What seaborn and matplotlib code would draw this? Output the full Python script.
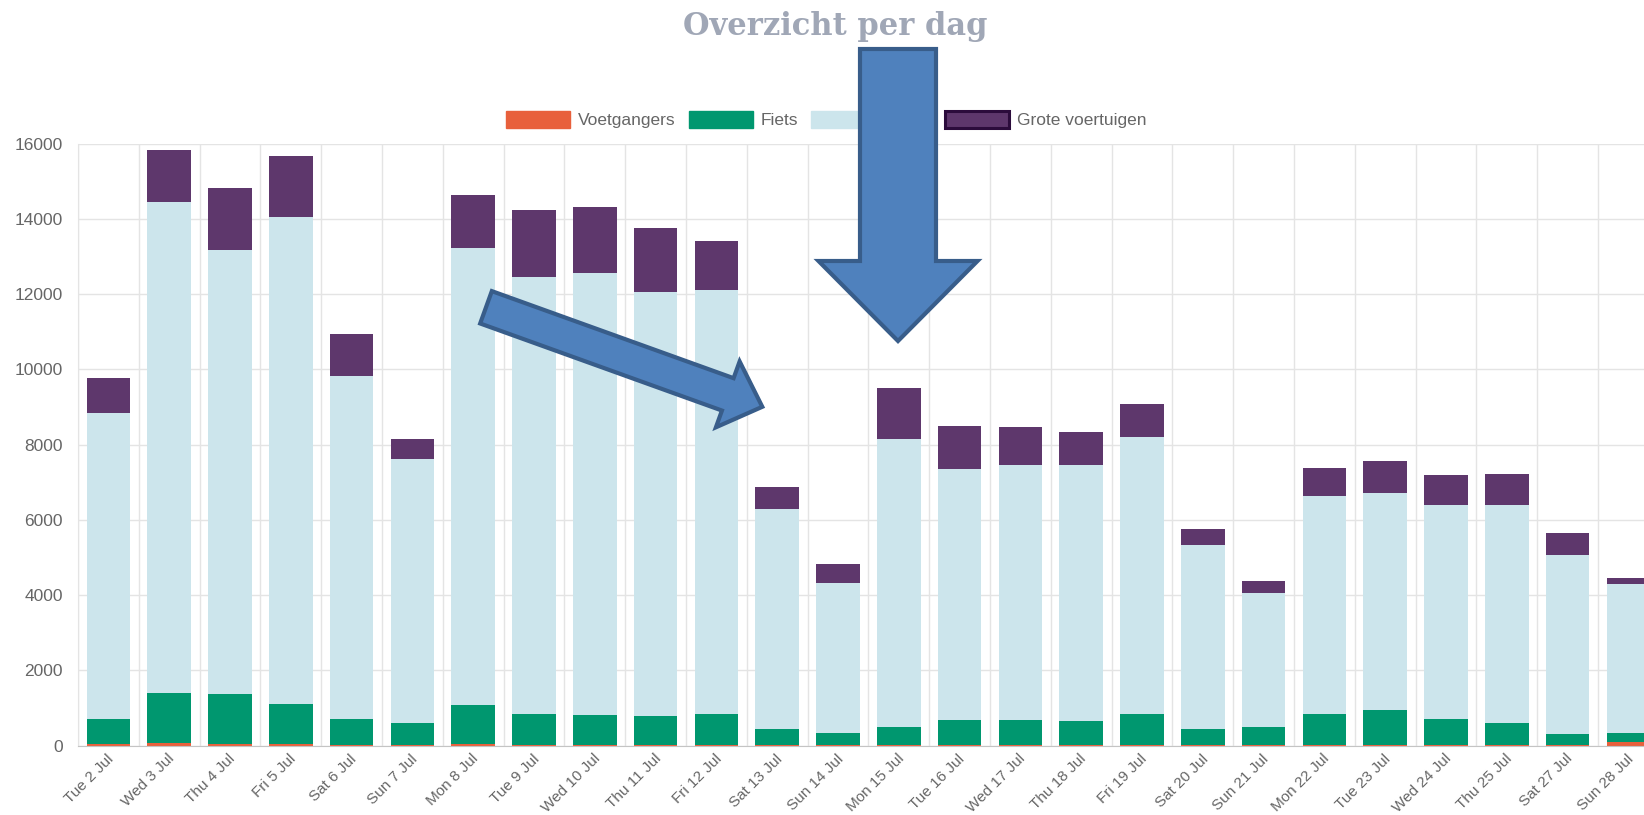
import seaborn as sns
import pandas as pd
import numpy as np
import matplotlib.pyplot as plt
from matplotlib.patches import Patch, Polygon
import matplotlib.transforms as mtransforms

# Data per dag
dagen = ['Tue 2 Jul', 'Wed 3 Jul', 'Thu 4 Jul', 'Fri 5 Jul', 'Sat 6 Jul', 'Sun 7 Jul',
         'Mon 8 Jul', 'Tue 9 Jul', 'Wed 10 Jul', 'Thu 11 Jul', 'Fri 12 Jul', 'Sat 13 Jul',
         'Sun 14 Jul', 'Mon 15 Jul', 'Tue 16 Jul', 'Wed 17 Jul', 'Thu 18 Jul', 'Fri 19 Jul',
         'Sat 20 Jul', 'Sun 21 Jul', 'Mon 22 Jul', 'Tue 23 Jul', 'Wed 24 Jul', 'Thu 25 Jul',
         'Sat 27 Jul', 'Sun 28 Jul']
voetgangers = [30, 70, 50, 40, 20, 20, 50, 25, 25, 25, 25, 15, 15, 15, 15, 15, 15, 15,
               15, 15, 15, 15, 15, 15, 15, 80]
fiets = [670, 1320, 1310, 1070, 680, 565, 1035, 810, 780, 755, 810, 430, 320, 485, 655,
         655, 625, 820, 430, 485, 820, 930, 680, 595, 290, 255]
autos = [8150, 13050, 11800, 12940, 9120, 7035, 12130, 11630, 11745, 11270, 11265, 5845,
         3975, 7650, 6675, 6790, 6820, 7375, 4895, 3560, 5785, 5760, 5705, 5790, 4760, 3950]
grote_voertuigen = [920, 1390, 1670, 1610, 1115, 530, 1420, 1780, 1750, 1695, 1310, 580,
                    505, 1340, 1140, 1000, 860, 860, 420, 310, 755, 865, 780, 805, 585, 170]

reeksen = ['Voetgangers', 'Fiets', "Auto's", 'Grote voertuigen']
kleuren = ['#e8603c', '#00976f', '#cce5ec', '#5e376c']

df = pd.DataFrame({'dag': dagen, 'Voetgangers': voetgangers, 'Fiets': fiets,
                   "Auto's": autos, 'Grote voertuigen': grote_voertuigen})
cum = df[reeksen].cumsum(axis=1)

W, H = 1644, 815
sns.set_style("white")
plt.rcParams['font.family'] = ['Liberation Sans', 'DejaVu Sans']

fig = plt.figure(figsize=(W / 100, H / 100), dpi=100)
# plotgebied loopt rechts iets buiten de afbeelding
ax = fig.add_axes([78 / W, (H - 745.5) / H, 26 * 60.8 / W, 602 / H])

# gestapelde balken: hoogste cumulatieve waarde eerst tekenen
for naam, kleur in reversed(list(zip(reeksen, kleuren))):
    sns.barplot(x=df['dag'], y=cum[naam], color=kleur, saturation=1, width=0.72,
                linewidth=0, edgecolor='none', ax=ax, zorder=2)

ax.set_xlim(-0.5, len(dagen) - 0.5)
ax.set_ylim(0, 16000)
ax.set_yticks(np.arange(0, 16001, 2000))
ax.set_xlabel('')
ax.set_ylabel('')

grid_kleur = '#e4e4e4'
ax.set_xticks(np.arange(len(dagen)) - 0.5, minor=True)
ax.grid(True, which='minor', axis='x', color=grid_kleur, linewidth=1, zorder=0)
ax.grid(True, which='major', axis='y', color=grid_kleur, linewidth=1, zorder=0)
ax.grid(False, which='major', axis='x')
ax.set_axisbelow(True)

ax.tick_params(axis='x', which='major', length=0, pad=8, labelsize=11, labelcolor='#666666')
ax.tick_params(axis='x', which='minor', length=7, color=grid_kleur, width=1)
ax.tick_params(axis='y', length=7, color=grid_kleur, width=1, pad=4, labelsize=12.5,
               labelcolor='#666666')
ax.set_xticks(np.arange(len(dagen)))
ax.set_xticklabels(dagen, rotation=45, ha='right', va='center', rotation_mode='anchor')
offset = mtransforms.ScaledTranslation(3 / 100, 0, fig.dpi_scale_trans)
for lbl in ax.get_xticklabels():
    lbl.set_transform(lbl.get_transform() + offset)

for side in ['top', 'right']:
    ax.spines[side].set_visible(False)
ax.spines['left'].set_color(grid_kleur)
ax.spines['bottom'].set_color('#c4c4c4')

# titel
fig.text(835 / W, 1 - 35 / H, 'Overzicht per dag', ha='center', va='baseline',
         family=['DejaVu Serif'], fontweight='bold', fontsize=22, color='#a0a7b6')

# legenda
handles = [Patch(facecolor=k, edgecolor=k, label=r) for r, k in zip(reeksen, kleuren)]
handles[3] = Patch(facecolor=kleuren[3], edgecolor='#2c0c3c', linewidth=2.2,
                   label=reeksen[3])
fig.legend(handles=handles, loc='center', bbox_to_anchor=(826 / W, 1 - 119.5 / H),
           ncol=4, frameon=False, fontsize=12.5, handlelength=3.7, handleheight=1.15,
           handletextpad=0.46, columnspacing=0.75, labelcolor='#666666')


# blauwe blokpijlen (in pixels van de afbeelding)
def blokpijl(staart, punt, schacht, kop_breed, kop_lang):
    s = np.array(staart, float)
    p = np.array(punt, float)
    d = (p - s) / np.linalg.norm(p - s)
    n = np.array([-d[1], d[0]])
    b = p - d * kop_lang
    pts = [s + n * schacht, b + n * schacht, b + n * kop_breed, p,
           b - n * kop_breed, b - n * schacht, s - n * schacht]
    return [(x / W, 1 - y / H) for x, y in pts]


for pijl in [blokpijl((898, 49), (898, 341), 38, 79.5, 80),
             blokpijl((486, 307.3), (762.3, 406.8), 17.2, 35, 36.7)]:
    fig.patches.append(Polygon(pijl, closed=True, transform=fig.transFigure,
                               facecolor='#4f81bd', edgecolor='#385d8a', linewidth=3,
                               joinstyle='miter', zorder=10))

plt.savefig('out.png', dpi=100)
